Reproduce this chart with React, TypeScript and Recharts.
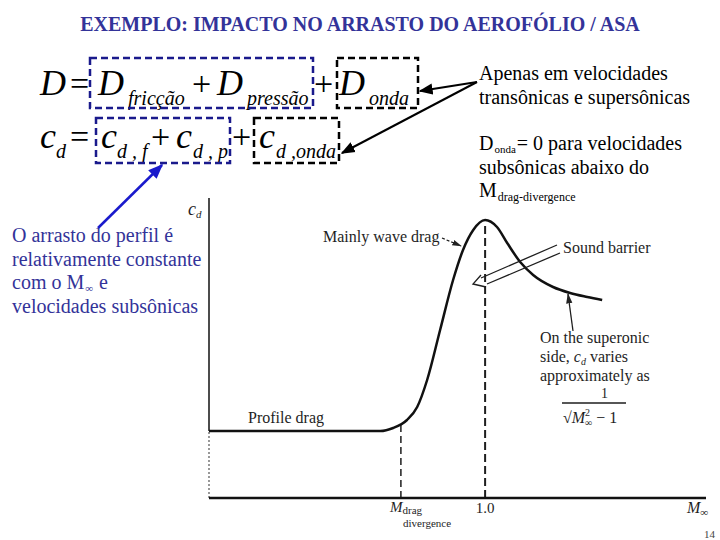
import React from 'react';
import { Line, LineChart, ReferenceLine, XAxis, YAxis } from 'recharts';

// Mach number along the curve and the drag coefficient
const machValues = [0, 0.2, 0.4, 0.62, 0.667, 0.717, 0.754, 0.79, 0.837, 0.884, 0.92, 0.957, 1.0, 1.043, 1.08, 1.127, 1.174, 1.246, 1.308, 1.37, 1.424];
const cdValues = [0.0067, 0.0067, 0.0067, 0.0067, 0.007, 0.0078, 0.0091, 0.0118, 0.0168, 0.0218, 0.0248, 0.0268, 0.0278, 0.0271, 0.0255, 0.0236, 0.0223, 0.0211, 0.0205, 0.0201, 0.0198];
const xTicks = [1.0];
const profileCd = 0.0067;
const cdTop = 0.03;
const mddMach = 0.695;
const mddCd = 0.0074;
const sonicCd = 0.0272;

const data = machValues.map((m, i) => ({ mach: m, cd: cdValues[i] }));

const SERIF = '"Liberation Serif", "Times New Roman", serif';
const NAVY = '#333399';
const BOX_NAVY = '#1a1a8c';
const INK = '#1e1e1e';
const ff = { fontFamily: SERIF };

const Overlay = () => (
    <svg width={720} height={540} style={{ position: 'absolute', left: 0, top: 0, pointerEvents: 'none', fontFamily: SERIF }}>
        <defs>
            <marker id="headBlack" viewBox="0 0 10 10" refX="9" refY="5" markerWidth="7" markerHeight="7" orient="auto">
                <path d="M0,1 L10,5 L0,9 z" fill="#000" />
            </marker>
            <marker id="headBlue" viewBox="0 0 10 10" refX="9" refY="5" markerWidth="6" markerHeight="6" orient="auto">
                <path d="M0,1 L10,5 L0,9 z" fill="#1a1acc" />
            </marker>
            <marker id="headThin" viewBox="0 0 10 10" refX="9" refY="5" markerWidth="8" markerHeight="8" orient="auto">
                <path d="M0,2 L10,5 L0,8 z" fill="#222" />
            </marker>
        </defs>

        <text x={360} y={31} textAnchor="middle" fontSize={20} fontWeight="bold" fill={NAVY} style={ff}>
            EXEMPLO: IMPACTO NO ARRASTO DO AEROFÓLIO / ASA
        </text>

        {/* line 1 of the equation */}
        <g style={ff} fill="#000">
            <text x={40} y={95} fontSize={36} fontStyle="italic">D</text>
            <text x={70} y={95} fontSize={34}>=</text>
            <text x={98} y={95} fontSize={36} fontStyle="italic">D</text>
            <text x={128} y={105} fontSize={20} fontStyle="italic">fricção</text>
            <text x={192} y={95} fontSize={34}>+</text>
            <text x={217} y={95} fontSize={36} fontStyle="italic">D</text>
            <text x={247} y={105} fontSize={20} fontStyle="italic">pressão</text>
            <text x={314} y={95} fontSize={34}>+</text>
            <text x={339} y={95} fontSize={36} fontStyle="italic">D</text>
            <text x={369} y={105} fontSize={20} fontStyle="italic">onda</text>
        </g>
        <rect x={90} y={58} width={223} height={50} fill="none" stroke={BOX_NAVY} strokeWidth={2.5} strokeDasharray="7 4" />
        <rect x={337} y={58} width={81} height={50} fill="none" stroke="#000" strokeWidth={2.5} strokeDasharray="7 4" />

        {/* line 2 of the equation */}
        <g style={ff} fill="#000">
            <text x={40} y={148} fontSize={36} fontStyle="italic">c</text>
            <text x={56} y={158} fontSize={20} fontStyle="italic">d</text>
            <text x={70} y={148} fontSize={34}>=</text>
            <text x={101} y={148} fontSize={36} fontStyle="italic">c</text>
            <text x={117} y={158} fontSize={20} fontStyle="italic">d , f</text>
            <text x={151} y={148} fontSize={34}>+</text>
            <text x={176} y={148} fontSize={36} fontStyle="italic">c</text>
            <text x={193} y={158} fontSize={20} fontStyle="italic">d , p</text>
            <text x={232} y={148} fontSize={34}>+</text>
            <text x={259} y={148} fontSize={36} fontStyle="italic">c</text>
            <text x={276} y={158} fontSize={20} fontStyle="italic">d ,onda</text>
        </g>
        <rect x={96} y={118} width={134} height={45} fill="none" stroke={BOX_NAVY} strokeWidth={2.5} strokeDasharray="7 4" />
        <rect x={254} y={118} width={85} height={45} fill="none" stroke="#000" strokeWidth={2.5} strokeDasharray="7 4" />

        {/* notes on the right */}
        <line x1={477} y1={82} x2={420} y2={91} stroke="#000" strokeWidth={2} markerEnd="url(#headBlack)" />
        <line x1={477} y1={82} x2={342} y2={153} stroke="#000" strokeWidth={2} markerEnd="url(#headBlack)" />
        <g style={ff} fill="#000" fontSize={20}>
            <text x={479} y={80}>Apenas em velocidades</text>
            <text x={479} y={104}>transônicas e supersônicas</text>
            <text x={479} y={150}>
                D<tspan fontSize={11} dx={1} dy={3}>onda</tspan><tspan dx={1} dy={-3}>= 0 para velocidades</tspan>
            </text>
            <text x={479} y={174}>subsônicas abaixo do</text>
            <text x={479} y={197}>
                M<tspan fontSize={12} dx={1} dy={4}>drag-divergence</tspan>
            </text>
        </g>

        {/* note on the left */}
        <line x1={98} y1={228} x2={162} y2={165} stroke="#1a1acc" strokeWidth={2.5} markerEnd="url(#headBlue)" />
        <text fontSize={20} fill={NAVY} style={ff}>
            <tspan x={12} y={242}>O arrasto do perfil é</tspan>
            <tspan x={12} y={266}>relativamente constante</tspan>
            <tspan x={12} y={289}>com o M</tspan>
            <tspan fontSize={11} dx={1} dy={3}>∞</tspan>
            <tspan dx={1} dy={-3}> e</tspan>
            <tspan x={12} y={313}>velocidades subsônicas</tspan>
        </text>

        {/* labels inside the figure */}
        <g style={ff} fill={INK}>
            <text x={188} y={215} fontSize={18} fontStyle="italic">
                c<tspan fontSize={11} dy={3}>d</tspan>
            </text>
            <text x={323} y={242} fontSize={16}>Mainly wave drag</text>
            <text x={563} y={253} fontSize={16}>Sound barrier</text>
            <text fontSize={16}>
                <tspan x={540} y={343}>On the superonic</tspan>
                <tspan x={540} y={362}>side, </tspan>
                <tspan fontStyle="italic">c</tspan>
                <tspan fontStyle="italic" fontSize={10} dy={3}>d</tspan>
                <tspan dy={-3}> varies</tspan>
                <tspan x={540} y={381}>approximately as</tspan>
            </text>
            <text x={601} y={398} fontSize={14}>1</text>
            <text x={563} y={423} fontSize={16}>
                √<tspan fontStyle="italic">M</tspan>
                <tspan fontSize={10} dy={-7}>2</tspan>
                <tspan fontSize={10} dx={-5} dy={10}>∞</tspan>
                <tspan dy={-3}> − 1</tspan>
            </text>
            <text x={248} y={423} fontSize={16}>Profile drag</text>
            <text x={390} y={512} fontSize={15} fontStyle="italic">
                M<tspan fontSize={11} fontStyle="normal" dy={2}>drag</tspan>
            </text>
            <text x={403} y={527} fontSize={11}>divergence</text>
            <text x={687} y={513} fontSize={16} fontStyle="italic">
                M<tspan fontSize={11} dy={3}>∞</tspan>
            </text>
            <text x={704} y={538} fontSize={11} fill="#444">14</text>
        </g>
        <line x1={442} y1={238} x2={461} y2={246} stroke={INK} strokeWidth={1.2} strokeDasharray="3 2" markerEnd="url(#headThin)" />
        <line x1={557} y1={245} x2={481} y2={278} stroke={INK} strokeWidth={1.3} />
        <line x1={560} y1={253} x2={487} y2={284} stroke={INK} strokeWidth={1.3} />
        <polyline points="481,275 473,284 486,287" fill="none" stroke={INK} strokeWidth={1.3} />
        <line x1={573} y1={331} x2={568} y2={294} stroke={INK} strokeWidth={1.3} markerEnd="url(#headThin)" />
        <line x1={562} y1={403} x2={626} y2={403} stroke={INK} strokeWidth={1.5} />
    </svg>
);

const App = () => (
    <div style={{ position: 'fixed', left: 0, top: 0, width: 720, height: 540, background: '#fff' }}>
        <LineChart width={720} height={540} data={data} margin={{ top: 198, right: 14, bottom: 12, left: 207 }}>
            <XAxis
                dataKey="mach"
                type="number"
                domain={[0, 1.8]}
                ticks={xTicks}
                tickFormatter={(v: number) => v.toFixed(1)}
                tickLine={false}
                tickSize={2}
                height={30}
                axisLine={{ stroke: '#111', strokeWidth: 2.5 }}
                tick={{ fontFamily: SERIF, fontSize: 15, fill: INK }}
            />
            <YAxis type="number" domain={[0, cdTop]} width={2} tick={false} tickLine={false} axisLine={false} />
            {/* y axis: solid above the profile drag level, dotted below it */}
            <ReferenceLine segment={[{ x: 0, y: profileCd }, { x: 0, y: cdTop }]} stroke="#111" strokeWidth={1.5} />
            <ReferenceLine segment={[{ x: 0, y: 0 }, { x: 0, y: profileCd }]} stroke="#555" strokeWidth={1.2} strokeDasharray="2 2" />
            <ReferenceLine
                segment={[{ x: mddMach, y: 0 }, { x: mddMach, y: mddCd }]}
                stroke={INK}
                strokeWidth={1.5}
                strokeDasharray="7 4"
            />
            <ReferenceLine
                segment={[{ x: 1.0, y: 0 }, { x: 1.0, y: sonicCd }]}
                stroke={INK}
                strokeWidth={2}
                strokeDasharray="8 4"
            />
            <Line
                type="monotone"
                dataKey="cd"
                stroke="#111"
                strokeWidth={2.5}
                dot={false}
                isAnimationActive={false}
            />
        </LineChart>
        <Overlay />
    </div>
);

export default App;
